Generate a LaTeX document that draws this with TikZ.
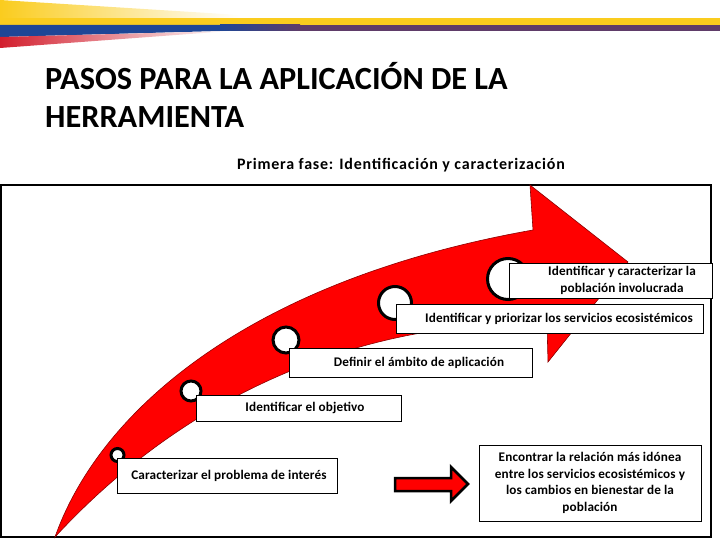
\documentclass[tikz,border=0pt]{standalone}
\usepackage{fontspec}
\setmainfont{Carlito}
\newfontfamily\cajafont[LetterSpace=1.0]{Carlito}
\newfontfamily\fasefont[LetterSpace=5.0]{Carlito}
\usepackage{tikz}
\definecolor{amarillo}{RGB}{250,204,30}
\definecolor{azul}{RGB}{30,70,150}
\definecolor{morado}{RGB}{95,60,105}
\definecolor{rojobandera}{RGB}{210,30,45}
\definecolor{rojoflecha}{RGB}{255,0,0}
\definecolor{bordeflecha}{RGB}{140,0,0}

\begin{document}
\begin{tikzpicture}[x=1pt,y=-1pt,
  caja/.style={draw,fill=white,line width=0.8pt,inner sep=2pt,align=center,
    font=\cajafont\bfseries\fontsize{13.2}{16.7}\selectfont},
  hito/.style={circle,draw,fill=white,line width=3pt,inner sep=0pt}]
\useasboundingbox (0,0) rectangle (720,540);
% franja de la bandera
\shade[left color=amarillo,right color=white] (0,0) -- (240,15) -- (240,18) -- (0,18) -- cycle;
\fill[amarillo] (0,18) rectangle (720,25);
\fill[azul] (0,25) -- (220,25) -- (220,31) -- (0,37) -- cycle;
\shade[left color=azul,right color=morado] (220,25) rectangle (300,31);
\fill[morado] (300,25) rectangle (720,31);
\shade[left color=rojobandera,right color=white] (0,37) -- (230,31) -- (0,48) -- cycle;
% titulo
\node[anchor=base west,inner sep=0pt,font=\bfseries\fontsize{32.3}{38}\selectfont] (titulo1) at (45,90) {PASOS PARA LA APLICACIÓN DE LA};
\node[anchor=base west,inner sep=0pt,font=\bfseries\fontsize{32.3}{38}\selectfont] (titulo2) at (45,128) {HERRAMIENTA};
\node[anchor=base,inner sep=0pt,font=\fasefont\bfseries\fontsize{16}{19}\selectfont] (fase) at (401,170) {Primera fase: Identificación y caracterización};
% marco
\draw[line width=2pt] (1,185) rectangle (711,537);
% flecha curva
\draw[fill=rojoflecha,draw=bordeflecha,line width=0.6pt]
  (55,537) .. controls (100,410) and (250,280) .. (533,230)
  -- (530,185) -- (628,262) -- (548,362) -- (547,323)
  .. controls (380,320) and (200,380) .. (55,537) -- cycle;
% hitos
\node[hito,minimum size=13pt] (h1) at (117.5,455) {};
\node[hito,minimum size=20pt] (h2) at (191,391) {};
\node[hito,minimum size=26pt] (h3) at (286,340) {};
\node[hito,minimum size=33pt] (h4) at (395,303) {};
\node[hito,minimum size=41pt] (h5) at (508,279) {};
% pasos
\node[caja,minimum width=220pt,minimum height=35pt] (problema) at (227,475.5) {\hspace*{4pt}Caracterizar el problema de interés};
\node[caja,minimum width=205pt,minimum height=26pt] (objetivo) at (298.5,408) {\hspace*{13pt}Identificar el objetivo};
\node[caja,minimum width=243pt,minimum height=29pt] (ambito) at (410.5,362.5) {\hspace*{17pt}Definir el ámbito de aplicación};
\node[caja,minimum width=307pt,minimum height=29pt] (servicios) at (549.5,318.5) {\hspace*{19pt}Identificar y priorizar los servicios ecosistémicos};
\node[caja,minimum width=203pt,minimum height=35pt] (poblacion) at (610.5,280.5) {\hspace*{23pt}Identificar y caracterizar la\\\hspace*{23pt}población involucrada};
\node[caja,minimum width=222pt,minimum height=76pt] (relacion) at (590,483) {Encontrar la relación más idónea\\entre los servicios ecosistémicos y\\los cambios en bienestar de la\\población};
% flecha de bloque
\draw[fill=rojoflecha,line width=2.5pt,line join=miter]
  (395,478) -- (451,478) -- (451,467) -- (468,484) -- (451,501) -- (451,491) -- (395,491) -- cycle;
\end{tikzpicture}
\end{document}
